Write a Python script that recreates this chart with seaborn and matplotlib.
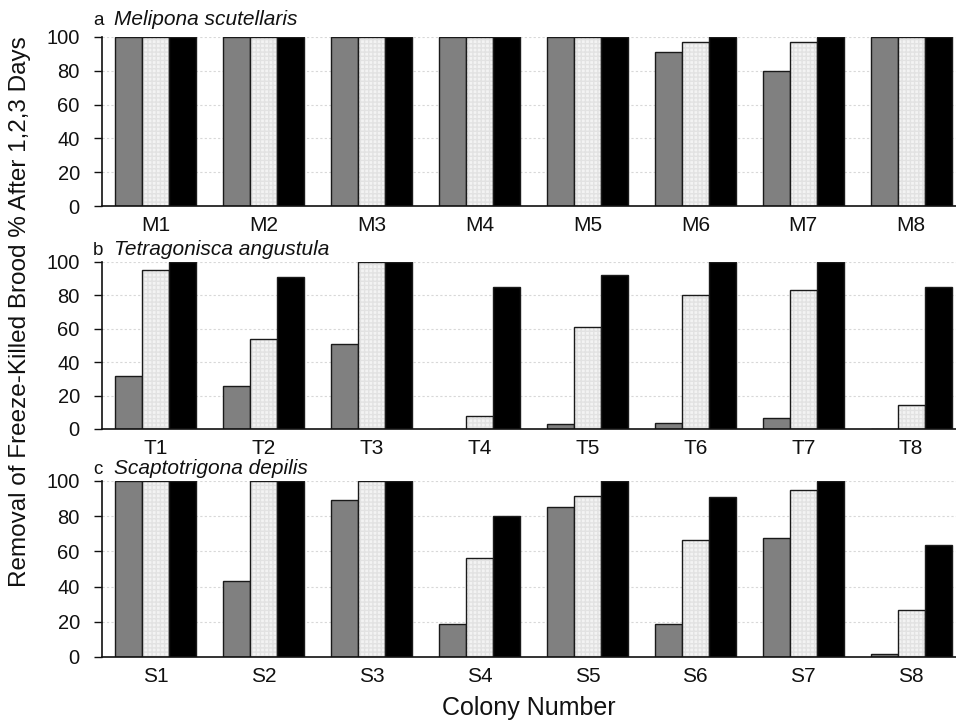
import numpy as np
import pandas as pd
import matplotlib
matplotlib.use("Agg")
import matplotlib.pyplot as plt
import seaborn as sns

# ---- data ----
days = ["Day 1", "Day 2", "Day 3"]

m_colonies = ["M1", "M2", "M3", "M4", "M5", "M6", "M7", "M8"]
m_day1 = [100, 100, 100, 100, 100, 91, 80, 100]
m_day2 = [100, 100, 100, 100, 100, 97, 97, 100]
m_day3 = [100, 100, 100, 100, 100, 100, 100, 100]

t_colonies = ["T1", "T2", "T3", "T4", "T5", "T6", "T7", "T8"]
t_day1 = [32, 26, 51, 0, 3, 3.5, 6.5, 0]
t_day2 = [95, 54, 100, 8, 61, 80.5, 83, 14.5]
t_day3 = [100, 91, 100, 85, 92, 100, 100, 85]

s_colonies = ["S1", "S2", "S3", "S4", "S5", "S6", "S7", "S8"]
s_day1 = [100, 43, 89, 18.5, 85, 19, 67.5, 1.5]
s_day2 = [100, 100, 100, 56.5, 91.5, 66.5, 95, 26.5]
s_day3 = [100, 100, 100, 80, 100, 91, 100, 63.5]

panel_letters = ["a", "b", "c"]
species = ["Melipona scutellaris", "Tetragonisca angustula", "Scaptotrigona depilis"]
y_ticks = [0, 20, 40, 60, 80, 100]

panels = [
    (m_colonies, m_day1, m_day2, m_day3),
    (t_colonies, t_day1, t_day2, t_day3),
    (s_colonies, s_day1, s_day2, s_day3),
]

sns.set_theme(style="white")
plt.rcParams["font.family"] = ["Liberation Sans", "DejaVu Sans"]

W, H = 956, 721
fig = plt.figure(figsize=(W / 100, H / 100), dpi=100)

left_px, right_px = 102, 965
boxes = [(37, 206), (262, 429), (481, 657)]
title_baseline = [25, 255, 474]

palette = {"Day 1": "#808080", "Day 2": "#f3f3f3", "Day 3": "#000000"}

for i, ((cols, d1, d2, d3), (top, bot)) in enumerate(zip(panels, boxes)):
    ax = fig.add_axes([left_px / W, 1 - bot / H, (right_px - left_px) / W, (bot - top) / H])
    df = pd.DataFrame({
        "Colony": cols * 3,
        "Day": sum([[d] * len(cols) for d in days], []),
        "Removal": list(d1) + list(d2) + list(d3),
    })
    sns.barplot(data=df, x="Colony", y="Removal", hue="Day", hue_order=days,
                palette=palette, width=0.75, edgecolor="#1a1a1a", linewidth=1.0,
                legend=False, ax=ax, zorder=3)
    # light bars: fine dotted texture
    for p in ax.containers[1]:
        p.set_hatch("++++")
        p._hatch_color = matplotlib.colors.to_rgba("#e2e2e2")
    ax.set_xlim(-0.5, len(cols) - 0.5)
    ax.set_ylim(0, 100)
    ax.set_yticks(y_ticks)
    ax.set_yticklabels([str(v) for v in y_ticks], fontsize=14.5)
    ax.set_xticks(range(len(cols)))
    ax.set_xticklabels(cols, fontsize=15)
    ax.set_xticks(np.arange(-0.5, len(cols), 1.0), minor=True)
    ax.tick_params(axis="x", which="major", length=0, pad=7, colors="#111111")
    ax.tick_params(axis="x", which="minor", length=4, width=0.8, color="#888888", direction="out")
    ax.tick_params(axis="y", which="major", length=6, width=1.0, color="#111111", pad=10,
                   direction="out", left=True, labelcolor="#111111")
    ax.set_xlabel("")
    ax.set_ylabel("")
    for s in ["top", "right"]:
        ax.spines[s].set_visible(False)
    for s in ["left", "bottom"]:
        ax.spines[s].set_color("#111111")
        ax.spines[s].set_linewidth(1.2)
        ax.spines[s].set_zorder(5)
    ax.yaxis.grid(True, color="#d8d8d8", linestyle=(0, (2, 2)), linewidth=0.8)
    ax.set_axisbelow(True)
    ax.set_facecolor("white")

    fig.text(93 / W, 1 - title_baseline[i] / H, panel_letters[i], fontsize=13.5,
             ha="left", va="baseline", color="#111111")
    fig.text(114 / W, 1 - title_baseline[i] / H, species[i], fontsize=15, style="italic",
             ha="left", va="baseline", color="#111111")

fig.text(20 / W, 1 - 312 / H, "Removal of Freeze-Killed Brood % After 1,2,3 Days",
         rotation=90, fontsize=17.5, ha="center", va="center", color="#111111")
fig.text(529 / W, 1 - 708 / H, "Colony Number", fontsize=18, ha="center", va="center",
         color="#111111")

fig.savefig("out.png", dpi=100, facecolor="white")
